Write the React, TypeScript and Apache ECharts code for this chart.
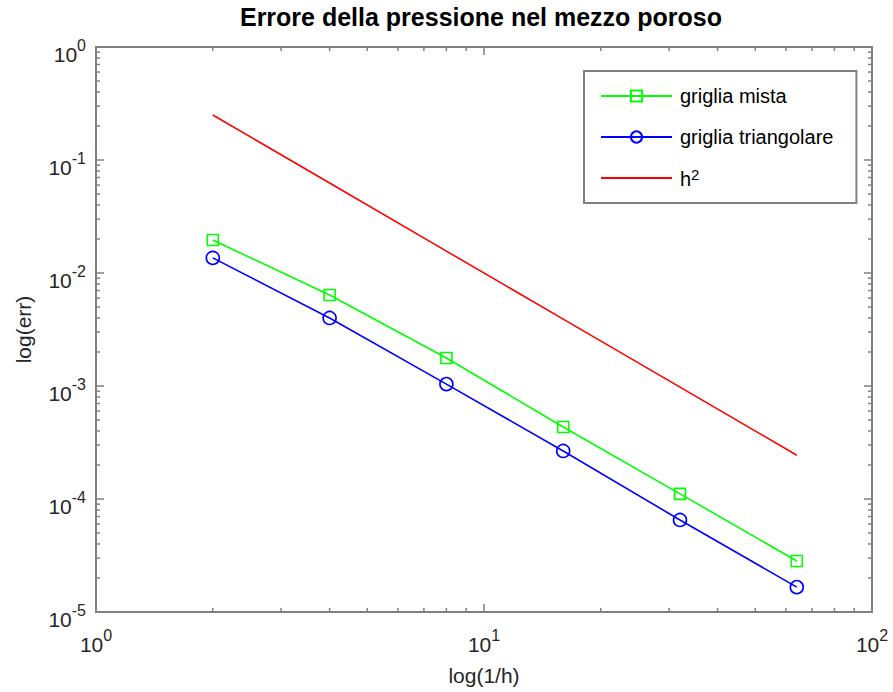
import React, { useEffect, useRef } from 'react';
import * as echarts from 'echarts';

// Refinement levels 1/h and the measured pressure errors
const invH = [2, 4, 8, 16, 32, 64];
const errMista = [0.0196, 0.00638, 0.00177, 0.000434, 0.000111, 0.0000283];
const errTriangolare = [0.0136, 0.004, 0.00104, 0.000266, 0.0000652, 0.0000166];
const refH2 = [0.25, 0.0625, 0.015625, 0.00390625, 0.0009765625, 0.000244140625];

// Decades shown on the log axes and the minor steps within each decade
const xDecades = [1, 10, 100];
const yDecades = [1e-5, 1e-4, 1e-3, 1e-2, 1e-1, 1];
const minorSteps = [2, 3, 4, 5, 6, 7, 8, 9];

const FONT = '"Liberation Sans", Arial, Helvetica, sans-serif';
const AXIS_GRAY = '#808080';
const TEXT_DARK = '#262626';

const tickValues = (decades: number[]) => {
  const out: number[] = [];
  decades.forEach((d, i) => {
    out.push(d);
    if (i < decades.length - 1) minorSteps.forEach((m) => out.push(d * m));
  });
  return out;
};

const isDecade = (v: number) => Math.abs(Math.log10(v) - Math.round(Math.log10(v))) < 1e-9;

const powLabel = (v: number) => `{b|10}{s|${Math.round(Math.log10(v))}}`;

// base "10" sits at the bottom of a tall line, the exponent near its top
const labelRich = {
  b: { fontSize: 21, fontFamily: FONT, color: TEXT_DARK, lineHeight: 36, verticalAlign: 'bottom' },
  s: { fontSize: 16, fontFamily: FONT, color: TEXT_DARK, padding: [8, 0, 0, 0], verticalAlign: 'top' },
};

const MAJOR_LEN = 8;
const MINOR_LEN = 4;
const tickStyle = { stroke: AXIS_GRAY, lineWidth: 1.5 };

export default function App() {
  const ref = useRef<HTMLDivElement>(null);

  useEffect(() => {
    if (!ref.current) return;
    const chart = echarts.init(ref.current, undefined, { renderer: 'svg' });

    const xTicks = tickValues(xDecades).map((v) => [v, 1]);
    const yTicks = tickValues(yDecades).map((v) => [1, v]);

    chart.setOption({
      animation: false,
      backgroundColor: '#ffffff',
      title: {
        text: 'Errore della pressione nel mezzo poroso',
        left: 481,
        top: 4,
        padding: 0,
        textAlign: 'center',
        textStyle: { fontFamily: FONT, fontSize: 25, fontWeight: 'bold', color: '#000' },
      },
      grid: {
        left: 96,
        right: 21,
        top: 47,
        bottom: 80,
        show: true,
        borderColor: AXIS_GRAY,
        borderWidth: 2,
        backgroundColor: 'rgba(0,0,0,0)',
      },
      legend: {
        orient: 'vertical',
        left: 584,
        top: 71,
        padding: [14, 23, 14, 16],
        itemWidth: 71,
        itemHeight: 14,
        itemGap: 19,
        borderColor: AXIS_GRAY,
        borderWidth: 2,
        backgroundColor: '#ffffff',
        data: [
          { name: 'griglia mista' },
          { name: 'griglia triangolare' },
          { name: 'h2', itemStyle: { opacity: 0 } },
        ],
        formatter: (name: string) => (name === 'h2' ? '{t|h}{p|2}' : name),
        textStyle: {
          fontFamily: FONT,
          fontSize: 20,
          lineHeight: 22,
          color: '#000',
          padding: [0, 0, 0, 3],
          rich: {
            t: { fontFamily: FONT, fontSize: 20, lineHeight: 22, color: '#000', verticalAlign: 'bottom' },
            p: { fontFamily: FONT, fontSize: 15, color: '#000', verticalAlign: 'top' },
          },
        },
      },
      xAxis: {
        type: 'log',
        logBase: 10,
        min: 1,
        max: 100,
        name: 'log(1/h)',
        nameLocation: 'middle',
        nameGap: 53,
        nameTextStyle: { fontFamily: FONT, fontSize: 21, color: TEXT_DARK },
        axisLine: { show: false },
        axisTick: { show: false },
        splitLine: { show: false },
        axisLabel: { margin: 7, formatter: powLabel, rich: labelRich },
      },
      yAxis: {
        type: 'log',
        logBase: 10,
        min: 1e-5,
        max: 1,
        splitNumber: 5,
        name: 'log(err)',
        nameLocation: 'middle',
        nameRotate: 90,
        nameGap: 62,
        nameTextStyle: { fontFamily: FONT, fontSize: 21, color: TEXT_DARK },
        axisLine: { show: false },
        axisTick: { show: false },
        splitLine: { show: false },
        axisLabel: { margin: 10, formatter: powLabel, rich: labelRich },
      },
      series: [
        {
          name: 'griglia mista',
          type: 'line',
          data: invH.map((x, i) => [x, errMista[i]]),
          symbol: 'rect',
          symbolSize: 11,
          lineStyle: { color: '#00ff00', width: 1.6 },
          itemStyle: { color: 'rgba(0,0,0,0)', borderColor: '#00ff00', borderWidth: 1.6 },
          z: 3,
        },
        {
          name: 'griglia triangolare',
          type: 'line',
          data: invH.map((x, i) => [x, errTriangolare[i]]),
          symbol: 'circle',
          symbolSize: 13,
          lineStyle: { color: '#0000ff', width: 1.6 },
          itemStyle: { color: 'rgba(0,0,0,0)', borderColor: '#0000ff', borderWidth: 1.6 },
          z: 3,
        },
        {
          name: 'h2',
          type: 'line',
          data: invH.map((x, i) => [x, refH2[i]]),
          symbol: 'none',
          lineStyle: { color: '#ff0000', width: 1.6 },
          itemStyle: { color: '#ff0000' },
          z: 3,
        },
        {
          // tick marks on bottom and top edges
          type: 'custom',
          silent: true,
          data: xTicks,
          renderItem: (_p: any, api: any) => {
            const v = api.value(0);
            const bottom = api.coord([v, 1e-5]);
            const top = api.coord([v, 1]);
            const len = isDecade(v) ? MAJOR_LEN : MINOR_LEN;
            return {
              type: 'group',
              children: [
                { type: 'line', shape: { x1: bottom[0], y1: bottom[1], x2: bottom[0], y2: bottom[1] - len }, style: tickStyle },
                { type: 'line', shape: { x1: top[0], y1: top[1], x2: top[0], y2: top[1] + len }, style: tickStyle },
              ],
            };
          },
          z: 2,
        },
        {
          // tick marks on left and right edges
          type: 'custom',
          silent: true,
          data: yTicks,
          renderItem: (_p: any, api: any) => {
            const v = api.value(1);
            const left = api.coord([1, v]);
            const right = api.coord([100, v]);
            const len = isDecade(v) ? MAJOR_LEN : MINOR_LEN;
            return {
              type: 'group',
              children: [
                { type: 'line', shape: { x1: left[0], y1: left[1], x2: left[0] + len, y2: left[1] }, style: tickStyle },
                { type: 'line', shape: { x1: right[0], y1: right[1], x2: right[0] - len, y2: right[1] }, style: tickStyle },
              ],
            };
          },
          z: 2,
        },
      ],
    });

    return () => chart.dispose();
  }, []);

  return (
    <div
      ref={ref}
      style={{ position: 'fixed', left: 0, top: 0, width: 893, height: 692, background: '#fff' }}
    />
  );
}
